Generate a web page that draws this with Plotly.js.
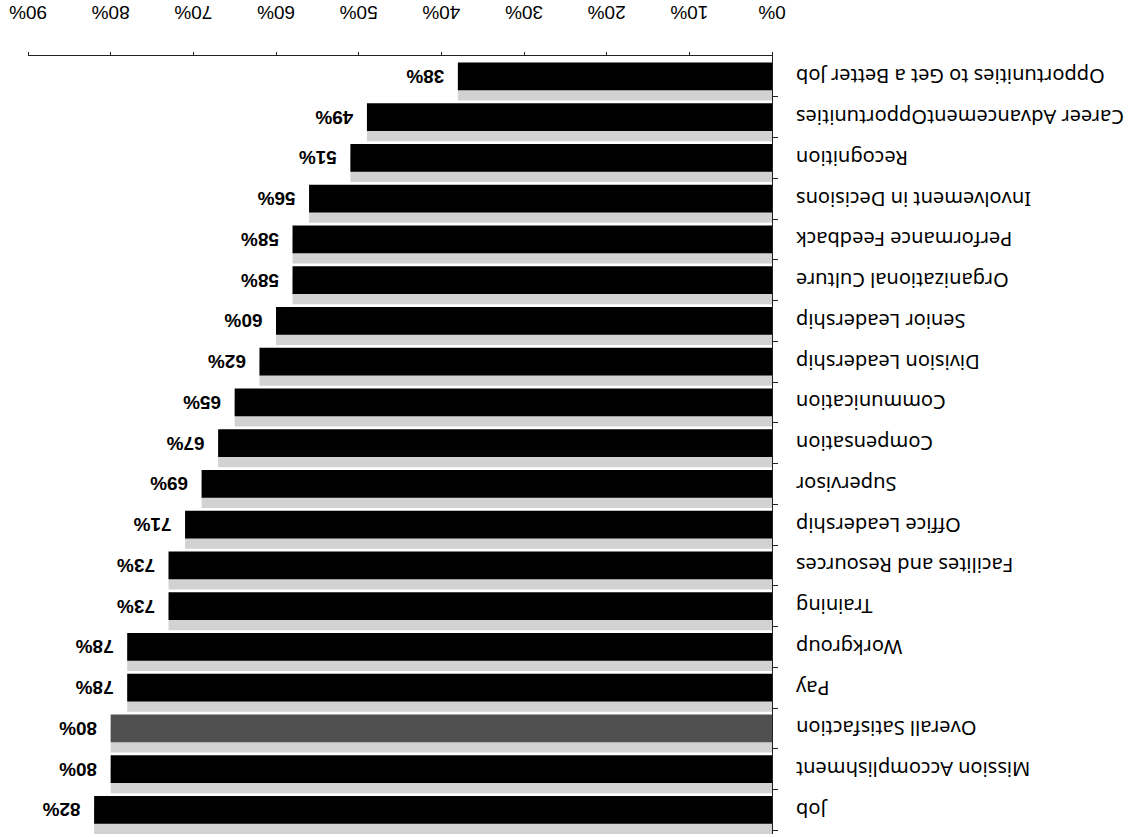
<!DOCTYPE html>
<html>
<head>
<meta charset="utf-8">
<script src="https://cdn.plot.ly/plotly-3.0.1.min.js"></script>
<style>
  html, body { margin: 0; padding: 0; background: #ffffff; }
  #chart { width: 1133px; height: 837px; transform: rotate(180deg); transform-origin: 50% 50%; }
</style>
</head>
<body>
<div id="chart"></div>
<script>
const categories = [
  "Job",
  "Mission Accomplishment",
  "Overall Satisfaction",
  "Pay",
  "Workgroup",
  "Training",
  "Facilites and Resources",
  "Office Leadership",
  "Supervisor",
  "Compensation",
  "Communication",
  "Division Leadership",
  "Senior Leadership",
  "Organizational Culture",
  "Performance Feedback",
  "Involvement in Decisions",
  "Recognition",
  "Career AdvancementOpportunities",
  "Opportunities to Get a Better Job"
];
const values = [0.82, 0.80, 0.80, 0.78, 0.78, 0.73, 0.73, 0.71, 0.69, 0.67, 0.65, 0.62, 0.60, 0.58, 0.58, 0.56, 0.51, 0.49, 0.38];
const highlighted = "Overall Satisfaction";
const xTickVals = [0, 0.1, 0.2, 0.3, 0.4, 0.5, 0.6, 0.7, 0.8, 0.9];
const xTickText = ["0%", "10%", "20%", "30%", "40%", "50%", "60%", "70%", "80%", "90%"];

const barColors = categories.map(c => c === highlighted ? "#505050" : "#000000");
const labels = values.map(v => "\u00a0\u00a0" + Math.round(v * 100) + "%");

const shadow = {
  type: "bar", orientation: "h",
  x: values, y: categories,
  width: 0.68, offset: -0.59,
  marker: { color: "#d2d2d2", line: { width: 0 } },
  hoverinfo: "skip", showlegend: false
};
const bars = {
  type: "bar", orientation: "h",
  x: values, y: categories,
  width: 0.68, offset: -0.34,
  marker: { color: barColors, line: { width: 0 } },
  text: labels, textposition: "outside", cliponaxis: false,
  textfont: { family: "Liberation Sans, Arial, sans-serif", size: 19, color: "#000000", weight: "bold" },
  showlegend: false
};

const layout = {
  width: 1133, height: 837,
  margin: { l: 361, r: 28, t: 3, b: 56 },
  paper_bgcolor: "#ffffff", plot_bgcolor: "#ffffff",
  barmode: "overlay",
  showlegend: false,
  font: { family: "Noto Sans, Open Sans, sans-serif", color: "#000000" },
  xaxis: {
    range: [0, 0.9], tickvals: xTickVals, ticktext: xTickText,
    showgrid: false, zeroline: false,
    showline: true, linecolor: "#222222", linewidth: 1,
    ticks: "outside", ticklen: 3, tickcolor: "#222222",
    ticklabelstandoff: 23,
    tickfont: { family: "Liberation Sans, Arial, sans-serif", size: 19, color: "#000000" }
  },
  yaxis: {
    type: "category", categoryorder: "array", categoryarray: categories,
    autorange: "reversed",
    showgrid: false, zeroline: false,
    showline: true, linecolor: "#222222", linewidth: 1,
    ticks: "outside", ticklen: 5, tickcolor: "#222222", tickson: "boundaries",
    ticklabelstandoff: 19,
    tickfont: { family: "Noto Sans, Open Sans, sans-serif", size: 20, color: "#000000" }
  }
};

Plotly.newPlot("chart", [shadow, bars], layout, { displayModeBar: false, staticPlot: true });
</script>
</body>
</html>
